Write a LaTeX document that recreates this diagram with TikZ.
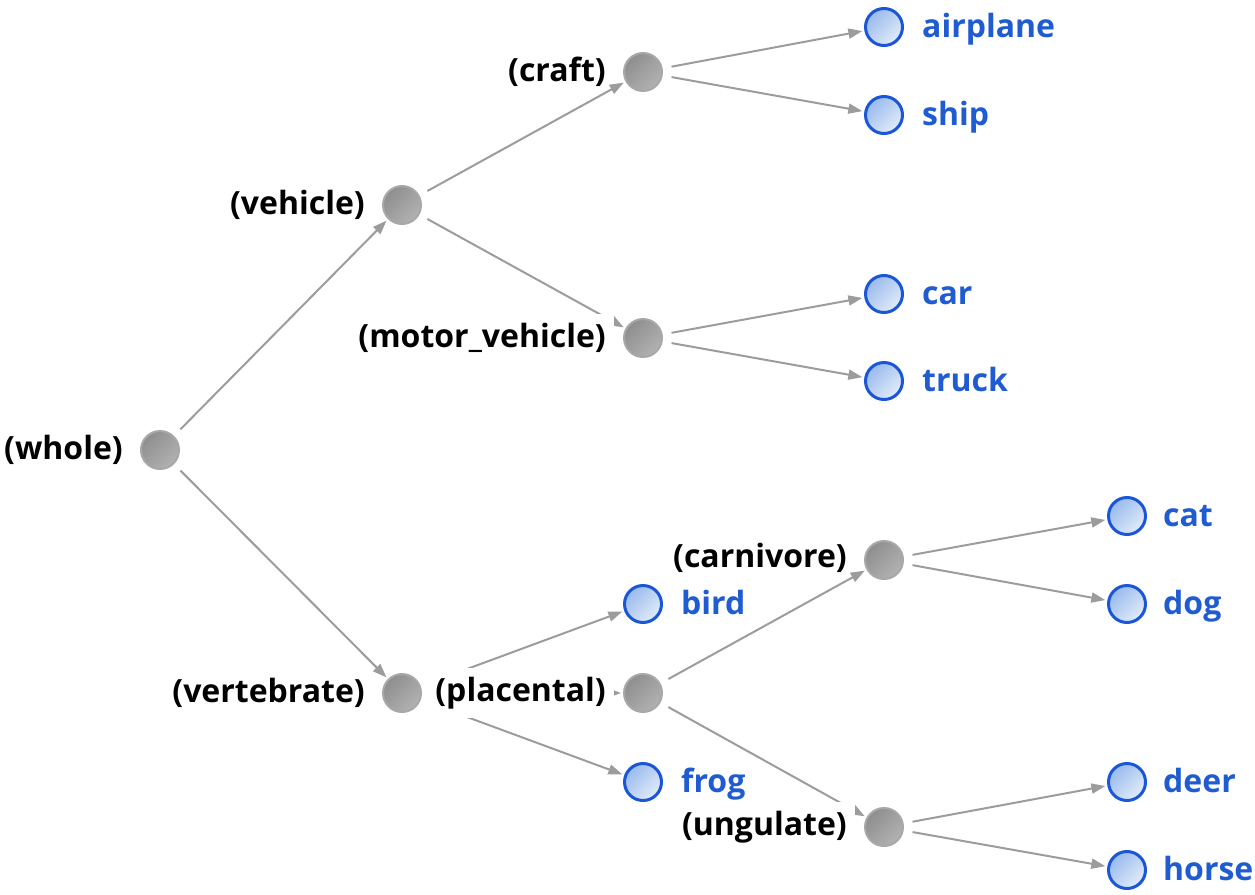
\documentclass[tikz,border=0pt]{standalone}
\usepackage{fontspec}
\setmainfont{Open Sans}
\usetikzlibrary{arrows.meta}
\definecolor{edgegray}{HTML}{9C9C9C}
\definecolor{ringgray}{HTML}{A8A8A8}
\definecolor{graydark}{HTML}{8E8E8E}
\definecolor{graylight}{HTML}{B2B2B2}
\definecolor{leafblue}{HTML}{1A56D6}
\definecolor{leafdark}{HTML}{98BAEC}
\definecolor{leaflight}{HTML}{E2ECFA}
\definecolor{leaftext}{HTML}{1F5BD1}
\begin{document}
\begin{tikzpicture}[x=1pt,y=-1pt,
  inner/.style={circle, minimum size=38pt, inner sep=0pt, line width=2pt, draw=ringgray,
    top color=graydark, bottom color=graylight, shading angle=45},
  leaf/.style={circle, minimum size=37pt, inner sep=0pt, line width=3pt, draw=leafblue,
    top color=leafdark, bottom color=leaflight, shading angle=45},
  lblfont/.style={font=\fontsize{32}{36}\selectfont\bfseries},
  ilabel/.style={lblfont, anchor=east, fill=white, inner xsep=8pt, inner ysep=9pt, text=black},
  llabel/.style={lblfont, anchor=base west, fill=white, inner xsep=2pt, inner ysep=9pt, text=leaftext},
  edge/.style={draw=edgegray, line width=2pt, shorten <=9pt, shorten >=2pt,
    -{Triangle[length=14pt,width=10pt]}}
]
\useasboundingbox (0,0) rectangle (1255,894);

% internal nodes
\node[inner] (whole) at (160,450) {};
\node[inner] (vehicle) at (402,205) {};
\node[inner] (craft) at (643,72) {};
\node[inner] (motor) at (643,338) {};
\node[inner] (vertebrate) at (402,693) {};
\node[inner] (placental) at (643,693) {};
\node[inner] (carnivore) at (884,560) {};
\node[inner] (ungulate) at (884,827) {};

% leaves
\node[leaf] (airplane) at (884,27) {};
\node[leaf] (ship) at (884,115) {};
\node[leaf] (car) at (884,294) {};
\node[leaf] (truck) at (884,381) {};
\node[leaf] (bird) at (643,604) {};
\node[leaf] (frog) at (643,782) {};
\node[leaf] (cat) at (1127,516) {};
\node[leaf] (dog) at (1127,604) {};
\node[leaf] (deer) at (1127,782) {};
\node[leaf] (horse) at (1127,870) {};

% edges partly hidden by labels
\draw[edge] (vehicle) -- (motor);
\draw[edge] (vertebrate) -- (bird);
\draw[edge] (vertebrate) -- (placental);
\draw[edge] (vertebrate) -- (frog);
\draw[edge] (placental) -- (ungulate);

% labels of internal nodes
\node[ilabel] (lwhole) at (131,450) {(whole)};
\node[ilabel] (lvehicle) at (373,205) {(vehicle)};
\node[ilabel] (lcraft) at (614,72) {(craft)};
\node[ilabel] (lmotor) at (614,338) {(motor\_vehicle)};
\node[ilabel] (lvertebrate) at (373,693) {(vertebrate)};
\node[ilabel] (lplacental) at (614,693) {(placental)};
\node[ilabel] (lcarnivore) at (855,558) {(carnivore)};
\node[ilabel] (lungulate) at (855,827) {(ungulate)};

% labels of leaves
\node[llabel] (lairplane) at (920,37) {airplane};
\node[llabel] (lship) at (920,125) {ship};
\node[llabel] (lcar) at (920,304) {car};
\node[llabel] (ltruck) at (920,391) {truck};
\node[llabel] (lbird) at (679,614) {bird};
\node[llabel] (lfrog) at (679,792) {frog};
\node[llabel] (lcat) at (1161,526) {cat};
\node[llabel] (ldog) at (1161,614) {dog};
\node[llabel] (ldeer) at (1161,792) {deer};
\node[llabel] (lhorse) at (1161,880) {horse};

% remaining edges
\draw[edge] (whole) -- (vehicle);
\draw[edge] (whole) -- (vertebrate);
\draw[edge] (vehicle) -- (craft);
\draw[edge] (craft) -- (airplane);
\draw[edge] (craft) -- (ship);
\draw[edge] (motor) -- (car);
\draw[edge] (motor) -- (truck);
\draw[edge] (placental) -- (carnivore);
\draw[edge] (carnivore) -- (cat);
\draw[edge] (carnivore) -- (dog);
\draw[edge] (ungulate) -- (deer);
\draw[edge] (ungulate) -- (horse);
\end{tikzpicture}
\end{document}
